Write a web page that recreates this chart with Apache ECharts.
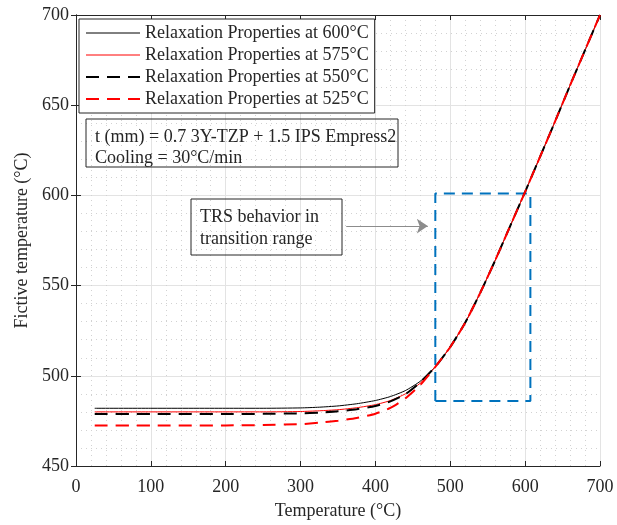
<!DOCTYPE html>
<html>
<head>
<meta charset="utf-8">
<script src="https://cdn.jsdelivr.net/npm/echarts@6/dist/echarts.min.js"></script>
<style>html,body{margin:0;padding:0;background:#fff;}#c{width:617px;height:525px;}</style>
</head>
<body>
<div id="c"></div>
<script>
const temps = [25, 100, 200, 250, 300, 325, 350, 375, 400, 420, 440, 460, 480, 500, 520, 540, 560, 580, 600, 620, 640, 660, 680, 700];
const tf600 = [482, 482, 482, 482, 482.2, 482.6, 483.3, 484.5, 486.3, 488.5, 491.8, 497, 505, 516, 529.5, 546, 564, 583, 602, 621.5, 641, 661, 680.5, 700];
const tf575 = [480, 480, 480, 480, 480.2, 480.6, 481.2, 482.3, 484, 486.3, 490, 496, 505, 516, 529.5, 546, 564, 583, 602, 621.5, 641, 661, 680.5, 700];
const tf550 = [478.8, 478.8, 478.8, 478.9, 479.2, 479.6, 480.3, 481.5, 483.3, 485.8, 489.8, 496.5, 505, 516, 529.5, 546, 564, 583, 602, 621.5, 641, 661, 680.5, 700];
const tf525 = [472.5, 472.5, 472.5, 472.7, 473.2, 474, 475.1, 476.6, 479, 482.2, 487.5, 495, 505, 516, 529.5, 546, 564, 583, 602, 621.5, 641, 661, 680.5, 700];
const seriesNames = ['Relaxation Properties at 600°C', 'Relaxation Properties at 575°C', 'Relaxation Properties at 550°C', 'Relaxation Properties at 525°C'];
const xTicks = [0, 100, 200, 300, 400, 500, 600, 700];
const yTicks = [450, 500, 550, 600, 650, 700];
const boxX = [480, 480, 607, 607, 480];
const boxY = [486, 601, 601, 486, 486];
const arrowX = [361, 470];
const arrowY = [583, 583];
const noteText = 't (mm) = 0.7 3Y-TZP + 1.5 IPS Empress2\nCooling = 30°C/min';
const trsText = 'TRS behavior in\ntransition range';

const FONT = 'Liberation Serif';
const AX = '#262626';
const zip = (xs, ys) => xs.map((x, i) => [x, ys[i]]);
const styles = [
  {color: '#000000', width: 1, type: 'solid'},
  {color: '#ff0000', width: 1, type: 'solid'},
  {color: '#000000', width: 2, type: [13, 8]},
  {color: '#ff0000', width: 2, type: [13, 8]}
];
const curves = [tf600, tf575, tf550, tf525];

const chart = echarts.init(document.getElementById('c'), null, {renderer: 'canvas'});

const baseX = {
  type: 'value', min: 0, max: 700, interval: 100,
  axisLine: {show: true, lineStyle: {color: AX, width: 1}},
  axisTick: {show: true, inside: true, length: 5, lineStyle: {color: AX}},
  minorTick: {show: false, splitNumber: 5},
};
const baseY = {
  type: 'value', min: 450, max: 700, interval: 50,
  axisLine: {show: true, lineStyle: {color: AX, width: 1}},
  axisTick: {show: true, inside: true, length: 5, lineStyle: {color: AX}},
  minorTick: {show: false, splitNumber: 5},
};

chart.setOption({
  animation: false,
  backgroundColor: '#fff',
  grid: {left: 76, right: 17, top: 15, bottom: 57, containLabel: false},
  xAxis: [
    Object.assign({}, baseX, {
      position: 'bottom',
      name: 'Temperature (°C)', nameLocation: 'middle', nameGap: 36,
      nameTextStyle: {fontFamily: FONT, fontSize: 18, color: AX},
      axisLabel: {fontFamily: FONT, fontSize: 18, color: AX, margin: 12,
        formatter: v => xTicks.indexOf(v) >= 0 ? String(v) : ''},
      splitLine: {show: true, lineStyle: {color: '#e3e3e3', width: 1}},
      minorSplitLine: {show: true, lineStyle: {color: '#d2d2d2', width: 1, type: [1, 4]}},
    }),
    Object.assign({}, baseX, {
      position: 'top', axisLabel: {show: false}, splitLine: {show: false}
    })
  ],
  yAxis: [
    Object.assign({}, baseY, {
      position: 'left',
      name: 'Fictive temperature (°C)', nameLocation: 'middle', nameGap: 44,
      nameTextStyle: {fontFamily: FONT, fontSize: 18, color: AX},
      axisLabel: {fontFamily: FONT, fontSize: 18, color: AX, margin: 7,
        formatter: v => yTicks.indexOf(v) >= 0 ? String(v) : ''},
      splitLine: {show: true, lineStyle: {color: '#e3e3e3', width: 1}},
      minorSplitLine: {show: true, lineStyle: {color: '#d2d2d2', width: 1, type: [1, 4]}},
    }),
    Object.assign({}, baseY, {
      position: 'right', axisLabel: {show: false}, splitLine: {show: false}
    })
  ],
  legend: {
    data: seriesNames.map((n, i) => ({name: n,
      lineStyle: {color: styles[i].color, width: styles[i].width, type: styles[i].type}})),
    orient: 'vertical', left: 79, top: 19,
    padding: [5, 6, 5, 6],
    itemWidth: 54, itemHeight: 14, itemGap: 4,
    backgroundColor: '#fff', borderColor: AX, borderWidth: 1, borderRadius: 0,
    textStyle: {fontFamily: FONT, fontSize: 18, color: AX, lineHeight: 18},
    itemStyle: {opacity: 0},
    z: 10
  },
  series: curves.map((ys, i) => ({
    name: seriesNames[i], type: 'line', data: zip(temps, ys),
    symbol: 'none', smooth: 0.2,
    lineStyle: styles[i],
    itemStyle: {color: styles[i].color},
    z: 3
  })).concat([
    {
      name: 'box', type: 'line', data: zip(boxX, boxY), symbol: 'none',
      lineStyle: {color: '#0072BD', width: 2, type: [11, 7]}, z: 2
    },
    {
      name: 'arrow', type: 'lines', coordinateSystem: 'cartesian2d',
      data: [{coords: zip(arrowX, arrowY)}],
      symbol: ['none', 'arrow'], symbolSize: [0, 11],
      lineStyle: {color: '#8c8c8c', width: 1, opacity: 1}, z: 4
    }
  ]),
  graphic: [
    {type: 'rect', shape: {x: 86, y: 119, width: 312, height: 48},
     style: {fill: 'none', stroke: AX, lineWidth: 1}, z: 20},
    {type: 'text', x: 95, y: 127, z: 21,
     style: {text: noteText, font: '18px "Liberation Serif"', lineHeight: 21, fill: AX, textVerticalAlign: 'top'}},
    {type: 'rect', shape: {x: 191, y: 199, width: 151, height: 56},
     style: {fill: 'none', stroke: AX, lineWidth: 1}, z: 20},
    {type: 'text', x: 200, y: 206, z: 21,
     style: {text: trsText, font: '18px "Liberation Serif"', lineHeight: 22, fill: AX, textVerticalAlign: 'top'}}
  ]
});
</script>
</body>
</html>
